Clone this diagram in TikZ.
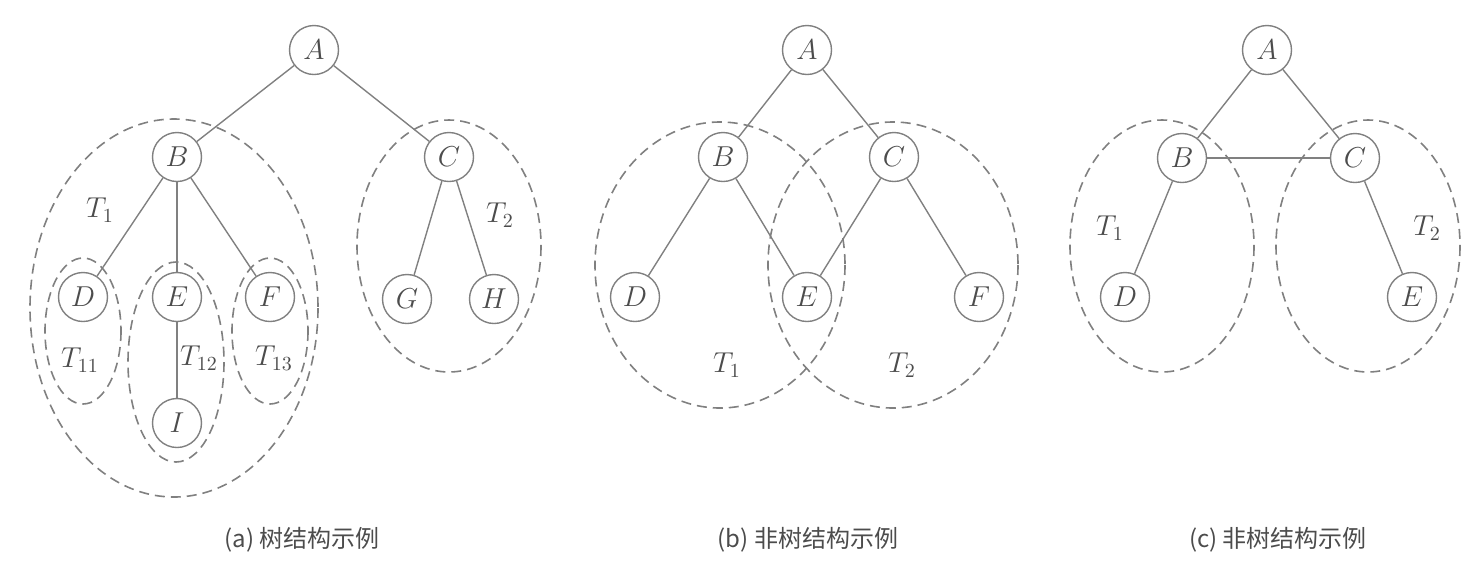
\documentclass[tikz,border=0pt]{standalone}
\usepackage{amsmath}
\usepackage{fontspec}
\newfontfamily\cjk{Noto Sans CJK SC}
\usepackage{tikz}

\tikzset{
  vertex/.style={circle, draw=black!50, line width=0.7pt, minimum size=24.5pt, inner sep=0pt,
    text=black!70, font=\fontsize{14.5}{14.5}\selectfont},
  edge/.style={draw=black!50, line width=0.7pt},
  subtree/.style={draw=black!50, line width=0.8pt, dash pattern=on 5pt off 3pt},
  tlabel/.style={text=black!70, font=\fontsize{14.5}{14.5}\selectfont},
  caption/.style={text=black!70, font=\cjk\fontsize{12}{12}\selectfont}
}

\begin{document}
\begin{tikzpicture}[x=0.5pt,y=-0.5pt]
        \useasboundingbox (0,0) rectangle (1483,580);
        % (a) tree
        \node[vertex] (aA) at (314,50) {$A$};
        \node[vertex] (aB) at (177,157) {$B$};
        \node[vertex] (aC) at (449,157) {$C$};
        \node[vertex] (aD) at (83,297) {$D$};
        \node[vertex] (aE) at (177,297) {$E$};
        \node[vertex] (aF) at (270,297) {$F$};
        \node[vertex] (aG) at (407,299) {$G$};
        \node[vertex] (aH) at (494,299) {$H$};
        \node[vertex] (aI) at (177,423) {$I$};
        \foreach \u/\v in {aA/aB,aA/aC,aB/aD,aB/aE,aB/aF,aE/aI,aC/aG,aC/aH} \draw[edge] (\u) -- (\v);
        % subtrees of (a)
        \draw[subtree] (174,308) ellipse [x radius=144, y radius=189];
        \draw[subtree] (449,246) ellipse [x radius=92, y radius=126];
        \draw[subtree] (83,331) ellipse [x radius=38, y radius=73];
        \draw[subtree] (176,362) ellipse [x radius=48, y radius=100];
        \draw[subtree] (270,331) ellipse [x radius=38, y radius=73];
        \node[tlabel] (aT1) at (100,210) {$T_1$};
        \node[tlabel] (aT2) at (500,215) {$T_2$};
        \node[tlabel] (aT11) at (80,360) {$T_{11}$};
        \node[tlabel] (aT12) at (199,358) {$T_{12}$};
        \node[tlabel] (aT13) at (274,358) {$T_{13}$};
        \node[caption] (acap) at (302,540) {(a) 树结构示例};

        % (b) not a tree
        \node[vertex] (bA) at (807,50) {$A$};
        \node[vertex] (bB) at (723,157) {$B$};
        \node[vertex] (bC) at (894,157) {$C$};
        \node[vertex] (bD) at (635,297) {$D$};
        \node[vertex] (bE) at (807,297) {$E$};
        \node[vertex] (bF) at (979,297) {$F$};
        \foreach \u/\v in {bA/bB,bA/bC,bB/bD,bB/bE,bC/bE,bC/bF} \draw[edge] (\u) -- (\v);
        \draw[subtree] (720,265) ellipse [x radius=125, y radius=143];
        \draw[subtree] (893,265) ellipse [x radius=125, y radius=143];
        \node[tlabel] (bT1) at (727,365) {$T_1$};
        \node[tlabel] (bT2) at (902,365) {$T_2$};
        \node[caption] (bcap) at (808,540) {(b) 非树结构示例};

        % (c) not a tree
        \node[vertex] (cA) at (1267,50) {$A$};
        \node[vertex] (cB) at (1182,158) {$B$};
        \node[vertex] (cC) at (1355,158) {$C$};
        \node[vertex] (cD) at (1125,297) {$D$};
        \node[vertex] (cE) at (1412,297) {$E$};
        \foreach \u/\v in {cA/cB,cA/cC,cB/cC,cB/cD,cC/cE} \draw[edge] (\u) -- (\v);
        \draw[subtree] (1162,246) ellipse [x radius=92, y radius=126];
        \draw[subtree] (1368,246) ellipse [x radius=92, y radius=126];
        \node[tlabel] (cT1) at (1110,228) {$T_1$};
        \node[tlabel] (cT2) at (1427,228) {$T_2$};
        \node[caption] (ccap) at (1278,540) {(c) 非树结构示例};
\end{tikzpicture}
\end{document}
